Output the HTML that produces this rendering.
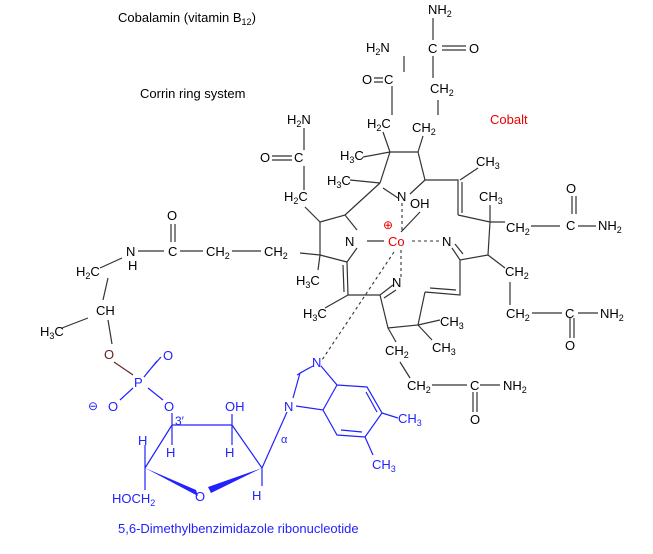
<!DOCTYPE html>
<html><head><style>
body{margin:0;background:#fff}
svg{font-family:"Liberation Sans",sans-serif;font-size:13px}
.s{font-size:9px}
</style></head><body>
<svg width="653" height="549" viewBox="0 0 653 549" xmlns="http://www.w3.org/2000/svg">
<g fill="#000">
<text x="118" y="22">Cobalamin (vitamin B<tspan class="s" dy="3">12</tspan><tspan dy="-3">)</tspan></text>
<text x="140" y="98">Corrin ring system</text>
<text x="490" y="124" fill="#e00">Cobalt</text>
<text x="428" y="14">NH<tspan class="s" dy="3">2</tspan></text>
<text x="428" y="53">C</text><text x="469" y="53">O</text>
<text x="366" y="52">H<tspan class="s" dy="3">2</tspan><tspan dy="-3">N</tspan></text>
<text x="362" y="84">O</text><text x="384" y="84">C</text>
<text x="430" y="93">CH<tspan class="s" dy="3">2</tspan></text>
<text x="367" y="128">H<tspan class="s" dy="3">2</tspan><tspan dy="-3">C</tspan></text>
<text x="412" y="132">CH<tspan class="s" dy="3">2</tspan></text>
<text x="287" y="124">H<tspan class="s" dy="3">2</tspan><tspan dy="-3">N</tspan></text>
<text x="260" y="162">O</text><text x="294" y="162">C</text>
<text x="340" y="160">H<tspan class="s" dy="3">3</tspan><tspan dy="-3">C</tspan></text>
<text x="476" y="166">CH<tspan class="s" dy="3">3</tspan></text>
<text x="327" y="185">H<tspan class="s" dy="3">3</tspan><tspan dy="-3">C</tspan></text>
<text x="284" y="201">H<tspan class="s" dy="3">2</tspan><tspan dy="-3">C</tspan></text>
<text x="397" y="201">N</text>
<text x="410" y="208">OH</text>
<text x="479" y="201">CH<tspan class="s" dy="3">3</tspan></text>
<text x="566" y="193">O</text>
<text x="506" y="232">CH<tspan class="s" dy="3">2</tspan></text>
<text x="566" y="230">C</text>
<text x="598" y="230">NH<tspan class="s" dy="3">2</tspan></text>
<text x="345" y="246">N</text>
<text x="442" y="246">N</text>
<text x="383" y="229" fill="#e00" font-size="12">⊕</text>
<text x="388" y="246" fill="#e00">Co</text>
<text x="167" y="220">O</text>
<text x="126" y="256">N</text><text x="128" y="270">H</text>
<text x="168" y="256">C</text>
<text x="206" y="256">CH<tspan class="s" dy="3">2</tspan></text>
<text x="264" y="256">CH<tspan class="s" dy="3">2</tspan></text>
<text x="76" y="276">H<tspan class="s" dy="3">2</tspan><tspan dy="-3">C</tspan></text>
<text x="96" y="315">CH</text>
<text x="40" y="336">H<tspan class="s" dy="3">3</tspan><tspan dy="-3">C</tspan></text>
<text x="296" y="285">H<tspan class="s" dy="3">3</tspan><tspan dy="-3">C</tspan></text>
<text x="392" y="287">N</text>
<text x="505" y="276">CH<tspan class="s" dy="3">2</tspan></text>
<text x="303" y="318">H<tspan class="s" dy="3">3</tspan><tspan dy="-3">C</tspan></text>
<text x="440" y="326">CH<tspan class="s" dy="3">3</tspan></text>
<text x="506" y="318">CH<tspan class="s" dy="3">2</tspan></text>
<text x="565" y="318">C</text>
<text x="600" y="318">NH<tspan class="s" dy="3">2</tspan></text>
<text x="565" y="350">O</text>
<text x="385" y="355">CH<tspan class="s" dy="3">2</tspan></text>
<text x="432" y="352">CH<tspan class="s" dy="3">3</tspan></text>
<text x="407" y="390">CH<tspan class="s" dy="3">2</tspan></text>
<text x="470" y="390">C</text>
<text x="503" y="390">NH<tspan class="s" dy="3">2</tspan></text>
<text x="470" y="424">O</text>
<text x="104" y="359" fill="#622">O</text>
</g>
<g fill="#22f">
<text x="163" y="360">O</text>
<text x="134" y="387">P</text>
<text x="88" y="410" font-size="12">⊖</text>
<text x="108" y="411">O</text>
<text x="164" y="411">O</text>
<text x="175" y="425" font-size="12">3′</text>
<text x="225" y="411">OH</text>
<text x="138" y="445">H</text>
<text x="166" y="457">H</text>
<text x="225" y="457">H</text>
<text x="281" y="443" font-size="11">α</text>
<text x="284" y="411">N</text>
<text x="312" y="367">N</text>
<text x="398" y="423">CH<tspan class="s" dy="3">3</tspan></text>
<text x="372" y="469">CH<tspan class="s" dy="3">3</tspan></text>
<text x="112" y="503">HOCH<tspan class="s" dy="3">2</tspan></text>
<text x="195" y="501">O</text>
<text x="252" y="500">H</text>
<text x="118" y="533">5,6-Dimethylbenzimidazole ribonucleotide</text>
</g>
<g stroke="#333" stroke-width="1.2" fill="none">
<path d="M433 18V40M442 46H466M442 50H466M433 56V78M404 56V72M374 78H383M374 82H383M392 86V115M438 100V115M304 128V150M272 156H292M272 160H292M304 166V190"/>
<path d="M380 183L390 152L418 152L425 180L410 194M383 188L398 198M390 152L363 157M390 152L383 132M380 183L350 180M418 152L423 136"/>
<path d="M425 180H458L458 215M462 182L462 213M460 180L478 168"/>
<path d="M458 215L490 222L488 255L460 260L452 248M463 254L455 244M490 222L490 205M490 222H505M488 255L505 268M531 226H560M578 226H596M572 196V214M576 196V214"/>
<path d="M510 282V305M532 313H562M578 313H598M570 318V338M574 318V338"/>
<path d="M460 260V295L425 292M456 290L430 288M425 292L418 325L388 328L380 295L393 285M384 298L396 290M418 325L440 320M418 325L432 340M388 328L396 342M400 362L410 378M432 385H467M480 385H500M473 392V412M477 392V412"/>
<path d="M380 295H348L347 262M344 292L343 265M348 295L325 308"/>
<path d="M347 262L320 255L320 222L345 215L357 230M347 262L357 248M345 215L380 183M320 255L318 270M320 255L300 253M320 222L305 207M367 241H384"/>
<path d="M138 251H164M180 251H203M232 251H261M171 224V242M175 224V242M122 258L100 268M108 278L103 300M108 320L112 344M88 318L62 328"/>
</g>
<g stroke="#333" stroke-width="1.1" stroke-dasharray="3,3" fill="none">
<path d="M402 203V232M412 241H440M401 250V280M394 252L322 360"/>
</g>
<path d="M401 232L420 212" stroke="#333" stroke-width="1.2"/>
<path d="M114 362L133 375" stroke="#622" stroke-width="1.2"/>
<g stroke="#22f" stroke-width="1.2" fill="none">
<path d="M147 373L161 357M144 377L157 361M133 388L120 400M148 388L163 400M172 413V425H232V414M172 425V445M232 425V445M172 425L145 468M145 468V490M232 425L262 468L287 412M262 468V486M145 468V445"/>
<path d="M293 398L300 373L313 366M297 375L309 368M321 366L337 385L323 410L296 406M337 385L367 387L382 413L365 437L337 435L323 410M366 392L377 412M341 430L362 432M382 413L398 418M365 437L373 455"/>
</g>
<polygon points="145,468 196,490 198,496" fill="#22f"/>
<polygon points="262,468 211,493 208,487" fill="#22f"/>
</svg>
</body></html>
